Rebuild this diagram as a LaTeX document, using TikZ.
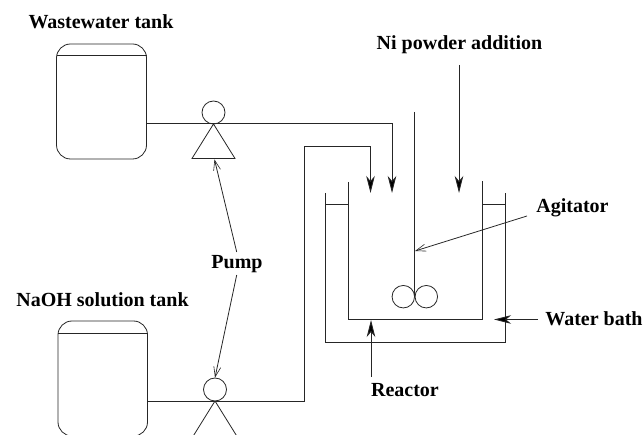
\documentclass[tikz,border=0pt]{standalone}
\usepackage{fontspec}
\setmainfont{Liberation Serif}
\usetikzlibrary{arrows.meta}
\definecolor{ink}{gray}{0.15}
\tikzset{
  lbl/.style={font=\bfseries\fontsize{20}{22}\selectfont,text=black,inner sep=0pt},
  tank/.style={rounded corners=14pt},
  pumpc/.style={circle,draw,minimum size=23pt,inner sep=0pt},
  bladec/.style={circle,draw,minimum size=22.5pt,inner sep=0pt},
  solid tip/.style={-{Stealth[length=17pt,width=8.5pt,inset=5pt,fill=black]}},
  open tip/.style={-{Straight Barb[length=10pt,width=7pt,line width=0.6pt]}}
}
\begin{document}
\begin{tikzpicture}[x=1pt,y=-1pt,color=ink,line width=0.8pt]
\useasboundingbox (0,0) rectangle (643,435);
\begin{scope}
\clip (0,0) rectangle (643,435);
% tanks
\draw[tank] (56.5,44) rectangle (146.5,159);
\draw (56.5,55.5) -- (146.5,55.5);
\draw[tank] (58,321) rectangle (147.5,436);
\draw (58,333) -- (147.5,333);
% pumps
\node[pumpc] (p1) at (213.5,112.5) {};
\node[pumpc] (p2) at (215,389.5) {};
\coordinate (a1) at (213.5,124);
\coordinate (a2) at (215,401);
\draw (a1) -- (192,158.5) -- (235,158.5) -- cycle;
\draw (a2) -- (192,438) (a2) -- (238,438);
\end{scope}
% lines
\coordinate (t1) at (146.5,123.5);
\coordinate (t2) at (147.5,401);
\coordinate (in1) at (392,193);
\coordinate (in2) at (370.5,193);
\coordinate (in3) at (459,193);
\coordinate (in3s) at (459,65);
\draw[solid tip] (t1) -- (392,123.5) -- (in1);
\draw[solid tip] (t2) -- (304,401) -- (304,146) -- (370.5,146) -- (in2);
\draw[solid tip] (in3s) -- (in3);
% reactor
\draw (348,182) -- (348,319) -- (482,319) -- (482,181);
\draw (325.7,193) -- (325.7,342.5) -- (505,342.5) -- (505,193);
\draw (325.7,204.5) -- (348,204.5);
\draw (482,204.5) -- (505,204.5);
% agitator
\node[bladec] (b1) at (403.3,296.7) {};
\node[bladec] (b2) at (426.3,296.7) {};
\coordinate (s1) at (414.8,112);
\coordinate (s2) at (414.8,296.7);
\draw (s1) -- (s2);
% labels
\node[lbl] (w) at (101,22) {Wastewater tank};
\node[lbl] (n) at (102.5,299.5) {NaOH solution tank};
\node[lbl] (ni) at (459.5,45) {Ni powder addition};
\node[lbl] (ag) at (572.5,207.5) {Agitator};
\node[lbl] (wb) at (594,319) {Water bath};
\node[lbl] (re) at (405,390) {Reactor};
\node[lbl] (pu) at (237,264.5) {Pump};
% label arrows
\coordinate (ags) at (527,216);
\coordinate (agt) at (415,251);
\draw[open tip] (ags) -- (agt);
\coordinate (ps1) at (236.7,252);
\coordinate (ps2) at (236.7,275);
\coordinate (pb1) at (214.5,159.5);
\draw[open tip] (ps1) -- (pb1);
\draw[open tip] (ps2) -- (p2.north);
\coordinate (ws) at (538,319.5);
\coordinate (wt) at (494,319.5);
\draw[solid tip] (ws) -- (wt);
\coordinate (rs) at (371,377);
\coordinate (rt) at (371,320);
\draw[solid tip] (rs) -- (rt);
\end{tikzpicture}
\end{document}
